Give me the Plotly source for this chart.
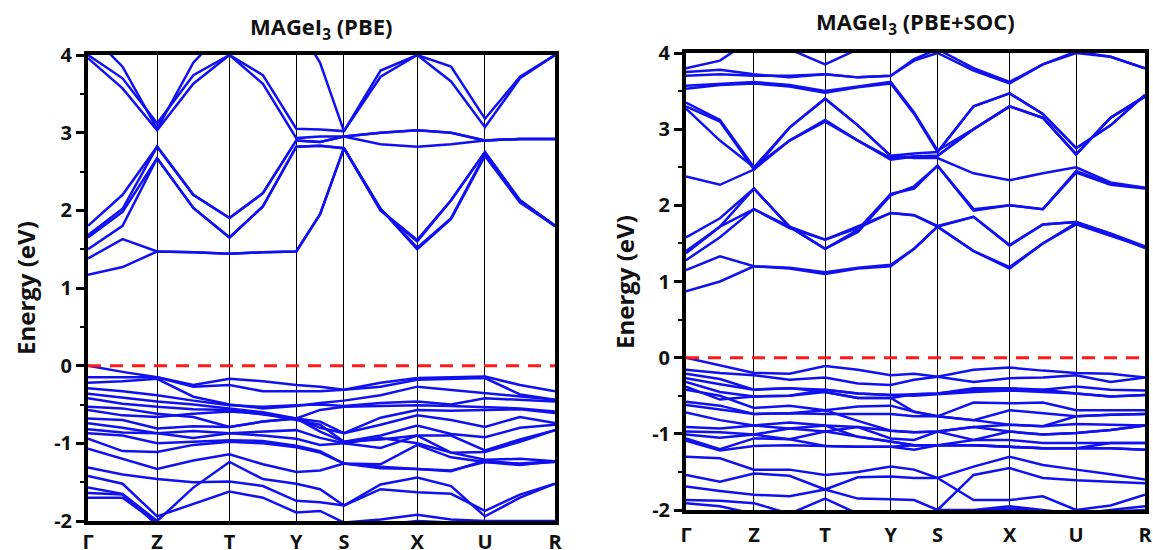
import plotly.graph_objects as go

# ---------------- data ----------------
k_labels = ["Γ", "Z", "T", "Y", "S", "X", "U", "R"]
k_sym = [0.0, 0.148, 0.303, 0.446, 0.548, 0.705, 0.850, 1.0]
# k path: high-symmetry points with one intermediate k-point per segment
k_path = [0.0, 0.074, 0.148, 0.2255, 0.303, 0.3745, 0.446, 0.497, 0.548,
          0.6265, 0.705, 0.7775, 0.850, 0.925, 1.0]

pbe_cb = [
    [1.17, 1.27, 1.47, 1.46, 1.44, 1.46, 1.47, 1.95, 2.80, 2.02, 1.50, 1.89, 2.70, 2.10, 1.80],
    [1.38, 1.63, 1.47, 1.46, 1.44, 1.46, 1.47, 1.95, 2.80, 2.00, 1.60, 2.13, 2.75, 2.13, 1.80],
    [1.50, 1.80, 2.67, 2.03, 1.65, 2.05, 2.82, 2.83, 2.80, 2.02, 1.52, 1.90, 2.72, 2.12, 1.80],
    [1.65, 1.98, 2.67, 2.03, 1.65, 2.05, 2.82, 2.83, 2.80, 2.00, 1.62, 2.13, 2.75, 2.13, 1.80],
    [1.68, 2.02, 2.82, 2.20, 1.90, 2.22, 2.90, 2.88, 2.95, 3.00, 3.03, 3.00, 2.90, 2.92, 2.92],
    [1.80, 2.20, 2.82, 2.20, 1.90, 2.22, 2.90, 2.88, 2.95, 3.00, 3.03, 3.00, 2.90, 2.92, 2.92],
    [3.96, 3.57, 3.03, 3.63, 4.00, 3.63, 2.93, 2.95, 2.95, 2.85, 2.82, 2.85, 2.90, 2.92, 2.92],
    [4.00, 3.70, 3.12, 3.74, 4.00, 3.74, 3.05, 3.04, 3.02, 3.72, 4.00, 3.85, 3.18, 3.72, 4.00],
    [4.30, 3.85, 3.05, 3.90, 4.40, 4.50, 4.40, 3.90, 3.02, 3.80, 4.00, 3.66, 3.07, 3.70, 4.00],
]

pbe_vb = [
    [0.00, -0.08, -0.15, -0.25, -0.17, -0.20, -0.25, -0.27, -0.31, -0.22, -0.16, -0.15, -0.14, -0.25, -0.33],
    [-0.15, -0.15, -0.15, -0.27, -0.25, -0.33, -0.33, -0.33, -0.31, -0.27, -0.18, -0.17, -0.16, -0.37, -0.44],
    [-0.22, -0.20, -0.17, -0.40, -0.50, -0.55, -0.52, -0.48, -0.45, -0.38, -0.27, -0.31, -0.35, -0.40, -0.44],
    [-0.29, -0.33, -0.38, -0.45, -0.51, -0.53, -0.51, -0.50, -0.52, -0.48, -0.46, -0.50, -0.42, -0.44, -0.46],
    [-0.36, -0.41, -0.46, -0.50, -0.55, -0.60, -0.68, -0.57, -0.53, -0.52, -0.51, -0.52, -0.53, -0.55, -0.59],
    [-0.42, -0.49, -0.53, -0.56, -0.57, -0.63, -0.68, -0.72, -0.87, -0.67, -0.57, -0.58, -0.57, -0.56, -0.61],
    [-0.53, -0.55, -0.62, -0.66, -0.79, -0.72, -0.68, -0.80, -0.87, -0.76, -0.64, -0.70, -0.79, -0.66, -0.74],
    [-0.57, -0.64, -0.66, -0.62, -0.59, -0.62, -0.70, -0.76, -0.98, -0.90, -0.77, -0.88, -0.92, -0.80, -0.76],
    [-0.68, -0.70, -0.81, -0.78, -0.79, -0.72, -0.68, -0.85, -0.98, -0.95, -0.90, -0.90, -1.09, -0.95, -0.83],
    [-0.74, -0.80, -0.87, -0.84, -0.87, -0.85, -0.83, -0.93, -1.00, -1.06, -0.90, -1.12, -1.11, -0.98, -0.83],
    [-0.82, -0.86, -0.87, -0.93, -0.87, -0.90, -0.94, -1.02, -1.00, -0.93, -1.00, -1.12, -1.21, -1.20, -1.23],
    [-0.87, -0.90, -1.00, -0.98, -0.96, -0.97, -1.03, -1.10, -1.26, -1.27, -1.02, -1.18, -1.24, -1.26, -1.23],
    [-0.94, -1.10, -1.11, -1.02, -0.98, -1.00, -1.05, -1.12, -1.26, -1.30, -1.33, -1.36, -1.22, -1.27, -1.24],
    [-1.07, -1.20, -1.33, -1.22, -1.14, -1.27, -1.37, -1.35, -1.26, -1.32, -1.33, -1.35, -1.24, -1.28, -1.23],
    [-1.31, -1.40, -1.46, -1.50, -1.49, -1.55, -1.74, -1.76, -1.80, -1.53, -1.44, -1.55, -1.94, -1.70, -1.52],
    [-1.42, -1.52, -1.94, -1.78, -1.62, -1.70, -1.89, -1.87, -2.02, -1.98, -1.92, -1.98, -2.00, -2.00, -2.00],
    [-1.57, -1.65, -2.00, -1.57, -1.24, -1.46, -1.52, -1.59, -1.80, -1.59, -1.63, -1.65, -1.87, -1.66, -1.52],
    [-1.64, -1.66, -2.05, -2.10, -2.10, -2.10, -2.10, -2.10, -2.10, -2.05, -2.00, -2.02, -2.05, -2.05, -2.05],
    [-1.70, -1.70, -2.02, -2.10, -2.20, -2.20, -2.20, -2.20, -2.15, -2.10, -2.05, -2.08, -2.10, -2.10, -2.10],
]

soc_cb = [
    [0.87, 1.00, 1.20, 1.17, 1.10, 1.17, 1.20, 1.43, 1.72, 1.40, 1.17, 1.50, 1.75, 1.60, 1.45],
    [1.15, 1.33, 1.20, 1.18, 1.12, 1.18, 1.22, 1.43, 1.72, 1.40, 1.19, 1.50, 1.77, 1.62, 1.44],
    [1.28, 1.58, 1.95, 1.70, 1.55, 1.72, 1.90, 1.87, 1.72, 1.85, 1.47, 1.75, 1.78, 1.62, 1.45],
    [1.37, 1.72, 1.95, 1.72, 1.55, 1.70, 1.90, 1.87, 1.73, 1.85, 1.48, 1.75, 1.78, 1.63, 1.46],
    [1.40, 1.72, 2.22, 1.72, 1.43, 1.65, 2.13, 2.25, 2.52, 1.95, 2.00, 1.95, 2.43, 2.27, 2.22],
    [1.58, 1.83, 2.22, 1.72, 1.43, 1.68, 2.15, 2.22, 2.52, 1.93, 2.00, 1.95, 2.45, 2.28, 2.23],
    [2.38, 2.27, 2.47, 3.02, 3.40, 3.05, 2.65, 2.62, 2.62, 2.42, 2.33, 2.42, 2.50, 2.30, 2.23],
    [3.27, 2.85, 2.50, 2.85, 3.12, 2.85, 2.62, 2.64, 2.65, 3.00, 3.30, 3.15, 2.67, 3.15, 3.43],
    [3.30, 3.10, 2.47, 2.85, 3.10, 2.85, 2.60, 2.64, 2.65, 3.00, 3.30, 3.15, 2.67, 3.15, 3.43],
    [3.35, 3.12, 2.50, 3.02, 3.40, 3.05, 2.65, 2.68, 2.70, 3.30, 3.47, 3.20, 2.75, 3.05, 3.45],
    [3.53, 3.58, 3.60, 3.56, 3.48, 3.55, 3.60, 3.20, 2.70, 3.30, 3.47, 3.20, 2.75, 3.05, 3.45],
    [3.57, 3.60, 3.62, 3.58, 3.50, 3.56, 3.62, 3.22, 2.72, 3.00, 3.30, 3.15, 2.67, 3.15, 3.43],
    [3.70, 3.72, 3.70, 3.70, 3.72, 3.68, 3.70, 3.90, 4.00, 3.77, 3.60, 3.85, 4.00, 3.95, 3.80],
    [3.75, 3.78, 3.72, 3.68, 3.72, 3.68, 3.70, 3.92, 4.05, 3.80, 3.62, 3.85, 4.02, 3.95, 3.80],
    [3.80, 3.90, 4.20, 4.05, 3.85, 4.05, 4.30, 4.40, 4.50, 4.30, 4.20, 4.30, 4.40, 4.20, 4.10],
]

soc_vb = [
    [0.00, -0.10, -0.20, -0.21, -0.11, -0.16, -0.23, -0.21, -0.25, -0.16, -0.13, -0.17, -0.20, -0.21, -0.26],
    [-0.16, -0.20, -0.23, -0.29, -0.26, -0.34, -0.36, -0.29, -0.25, -0.32, -0.27, -0.26, -0.23, -0.32, -0.26],
    [-0.21, -0.28, -0.42, -0.40, -0.42, -0.47, -0.49, -0.48, -0.47, -0.40, -0.40, -0.42, -0.38, -0.42, -0.43],
    [-0.27, -0.35, -0.42, -0.40, -0.45, -0.53, -0.53, -0.48, -0.47, -0.42, -0.42, -0.42, -0.47, -0.51, -0.49],
    [-0.32, -0.45, -0.51, -0.50, -0.42, -0.47, -0.49, -0.50, -0.48, -0.45, -0.43, -0.45, -0.47, -0.51, -0.49],
    [-0.38, -0.55, -0.51, -0.50, -0.45, -0.53, -0.53, -0.71, -0.77, -0.59, -0.60, -0.59, -0.69, -0.69, -0.69],
    [-0.42, -0.50, -0.66, -0.63, -0.69, -0.64, -0.63, -0.71, -0.77, -0.82, -0.69, -0.73, -0.77, -0.75, -0.74],
    [-0.58, -0.63, -0.74, -0.73, -0.74, -0.74, -0.74, -0.77, -0.77, -0.82, -0.88, -0.90, -0.77, -0.75, -0.74],
    [-0.62, -0.68, -0.74, -0.73, -0.69, -0.83, -0.96, -0.98, -0.97, -0.91, -0.88, -0.90, -0.87, -0.88, -0.89],
    [-0.72, -0.82, -0.89, -0.85, -0.89, -0.91, -0.96, -0.98, -0.97, -0.91, -0.97, -1.01, -0.99, -0.95, -0.89],
    [-0.91, -0.93, -0.89, -0.93, -0.97, -0.91, -1.06, -1.08, -0.97, -1.08, -0.97, -1.01, -0.99, -0.95, -0.89],
    [-0.97, -0.98, -1.01, -0.93, -0.89, -1.04, -1.10, -1.15, -1.15, -1.08, -1.08, -1.12, -1.12, -1.12, -1.12],
    [-1.01, -1.05, -1.01, -1.07, -0.97, -1.04, -1.10, -1.15, -1.15, -1.15, -1.17, -1.19, -1.19, -1.19, -1.21],
    [-1.06, -1.20, -1.06, -1.07, -1.16, -1.17, -1.17, -1.21, -1.15, -1.15, -1.17, -1.19, -1.19, -1.12, -1.12],
    [-1.09, -1.22, -1.16, -1.15, -1.16, -1.17, -1.17, -1.15, -1.15, -1.15, -1.17, -1.19, -1.19, -1.19, -1.21],
    [-1.30, -1.32, -1.47, -1.47, -1.54, -1.50, -1.43, -1.47, -1.58, -1.43, -1.30, -1.41, -1.47, -1.53, -1.60],
    [-1.54, -1.63, -1.52, -1.55, -1.73, -1.85, -1.86, -1.87, -2.00, -1.54, -1.45, -1.58, -1.61, -1.63, -1.65],
    [-1.69, -1.75, -1.80, -1.82, -1.73, -1.57, -1.56, -1.58, -1.58, -1.87, -1.87, -1.82, -2.00, -1.94, -1.80],
    [-1.87, -1.88, -1.91, -2.05, -1.85, -2.05, -2.10, -2.10, -2.00, -2.00, -1.95, -2.00, -2.05, -2.00, -1.95],
    [-1.91, -1.95, -2.05, -2.10, -2.15, -2.10, -2.10, -2.10, -2.05, -2.02, -1.98, -2.02, -2.05, -2.02, -2.00],
]

y_ticks = [-2, -1, 0, 1, 2, 3, 4]
y_minor = [-1.5, -0.5, 0.5, 1.5, 2.5, 3.5]
fermi_level = [0.0, 0.0]

# ---------------- style ----------------
BLUE = "#1010f0"
RED = "#ff1a1a"
FONT = "Open Sans"
TXT = "#111111"

fig = go.Figure()

panels = [("x", "y", pbe_cb + pbe_vb), ("x2", "y2", soc_cb + soc_vb)]
for xa, ya, bands in panels:
    for b in bands:
        fig.add_trace(go.Scatter(x=k_path, y=b, mode="lines", xaxis=xa, yaxis=ya,
                                 line=dict(color=BLUE, width=2.5),
                                 hoverinfo="skip", showlegend=False))
    fig.add_trace(go.Scatter(x=[k_sym[0], k_sym[-1]], y=fermi_level, mode="lines",
                             xaxis=xa, yaxis=ya,
                             line=dict(color=RED, width=3, dash="13px,9px"),
                             hoverinfo="skip", showlegend=False))

def xaxis(domain, anchor, standoff):
    return dict(domain=domain, anchor=anchor, range=[0, 1], automargin=False,
                tickmode="array", tickvals=k_sym,
                ticktext=[f"<b>{t}</b>" for t in k_labels],
                tickfont=dict(family=FONT, size=20, color=TXT),
                ticks="", ticklabelstandoff=standoff,
                showgrid=True, gridcolor="black", gridwidth=1,
                showline=True, linecolor="black", linewidth=4, mirror=True,
                zeroline=False, fixedrange=True)

def yaxis(domain, anchor):
    return dict(domain=domain, anchor=anchor, range=[-2, 4], automargin=False,
                tickmode="array", tickvals=y_ticks,
                ticktext=[f"<b>{v}</b>" for v in y_ticks],
                tickfont=dict(family=FONT, size=20, color=TXT),
                ticks="outside", ticklen=8, tickwidth=3, tickcolor="black",
                minor=dict(tickvals=y_minor, ticks="outside", ticklen=4,
                           tickwidth=2, tickcolor="black"),
                showgrid=False, zeroline=False,
                showline=True, linecolor="black", linewidth=4, mirror=True,
                fixedrange=True)

W, H = 1153, 550
fig.update_layout(
    width=W, height=H,
    margin=dict(l=0, r=0, t=0, b=0, autoexpand=False),
    paper_bgcolor="white", plot_bgcolor="white",
    xaxis=xaxis([88 / W, 555 / W], "y", 0),
    yaxis=yaxis([1 - 521 / H, 1 - 55 / H], "x"),
    xaxis2=xaxis([686 / W, 1145 / W], "y2", 4),
    yaxis2=yaxis([1 - 510 / H, 1 - 53 / H], "x2"),
    annotations=[
        dict(text="<b>MAGeI<sub>3</sub> (PBE)</b>", x=321 / W, y=1 - 28 / H,
             xref="paper", yref="paper", xanchor="center", yanchor="middle",
             showarrow=False, font=dict(family=FONT, size=22, color=TXT)),
        dict(text="<b>MAGeI<sub>3</sub> (PBE+SOC)</b>", x=915 / W, y=1 - 23 / H,
             xref="paper", yref="paper", xanchor="center", yanchor="middle",
             showarrow=False, font=dict(family=FONT, size=22, color=TXT)),
        dict(text="<b>Energy (eV)</b>", x=25 / W, y=1 - 288 / H, textangle=-90,
             xref="paper", yref="paper", xanchor="center", yanchor="middle",
             showarrow=False, font=dict(family=FONT, size=24, color=TXT)),
        dict(text="<b>Energy (eV)</b>", x=624 / W, y=1 - 282 / H, textangle=-90,
             xref="paper", yref="paper", xanchor="center", yanchor="middle",
             showarrow=False, font=dict(family=FONT, size=24, color=TXT)),
    ],
)

fig.write_html(
    "out.html",
    config={"displayModeBar": False},
    post_script="document.body.style.margin='0';document.body.style.padding='0';"
                "document.body.style.overflow='hidden';"
                "document.documentElement.style.overflow='hidden';",
)
